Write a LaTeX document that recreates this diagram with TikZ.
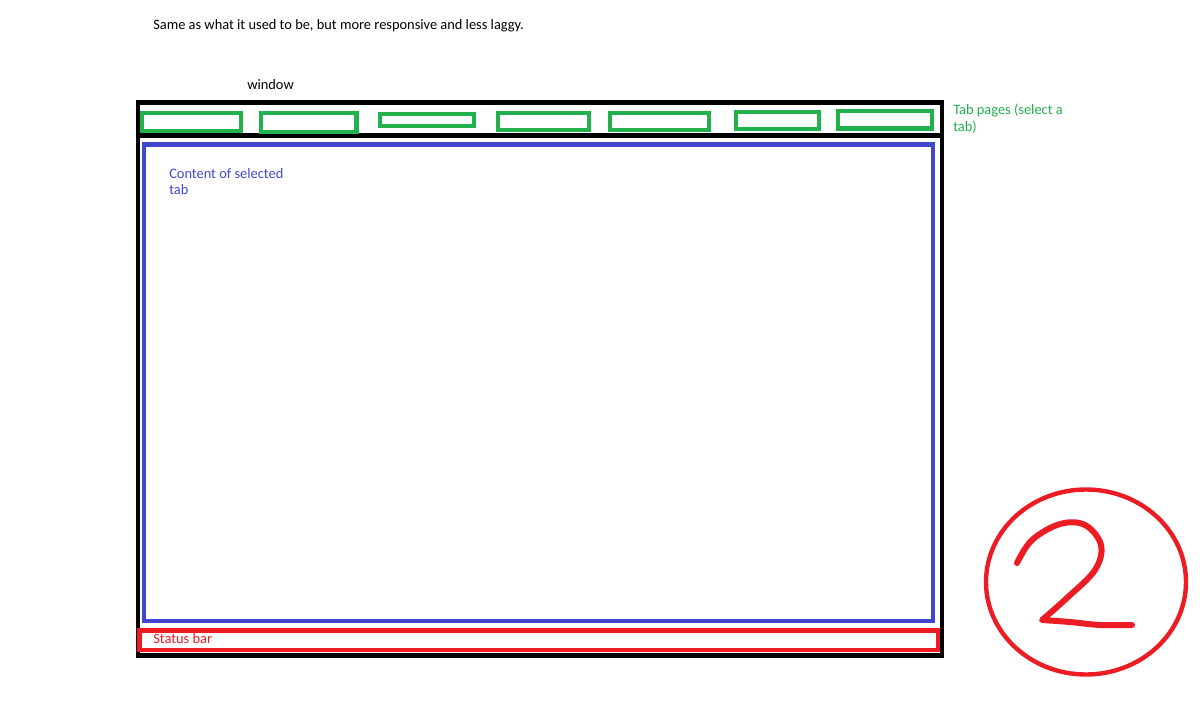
\documentclass[tikz,border=0pt]{standalone}
\usepackage{fontspec}
\setmainfont{Carlito}
\usepackage{xcolor}
\usetikzlibrary{positioning}

\definecolor{paintgreen}{HTML}{22B14C}
\definecolor{paintblue}{HTML}{3F48CC}
\definecolor{paintred}{HTML}{ED1C24}

\begin{document}
\begin{tikzpicture}[
  x=0.75pt, y=-0.75pt,
  note/.style={anchor=west, inner sep=0pt, align=left, font=\fontsize{10.8}{12.5}\selectfont},
  frame/.style={draw=black, line width=3.5pt},
  tabbox/.style={draw=paintgreen, line width=3.3pt},
  contentbox/.style={draw=paintblue, line width=3.3pt},
  statusbox/.style={draw=paintred, line width=3.3pt}
]
\useasboundingbox (0,0) rectangle (1200,722);

% Caption
\node[note] (caption) at (153,26) {Same as what it used to be, but more responsive and less laggy.};
\node[note] (winlabel) at (247,85) {window};

% Window frame
\draw[frame] (138,102.5) rectangle (942,655.5);
\draw[frame] (138,135.5) -- (942,135.5);

% Tab pages
\draw[tabbox] (142,113) rectangle (241,131);
\draw[tabbox] (261,113) rectangle (356.5,132);
\draw[tabbox] (380,114) rectangle (474,126);
\draw[tabbox] (498,113) rectangle (589,130);
\draw[tabbox] (610,113) rectangle (709,130);
\draw[tabbox] (736,112) rectangle (819,129);
\draw[tabbox] (838,111) rectangle (932,128.5);
\node[note, text=paintgreen] (tablabel) at (953,119) {Tab pages (select a\\tab)};

% Content
\draw[contentbox] (144,144.5) rectangle (933,621);
\node[note, text=paintblue] (contentlabel) at (169,181.5) {Content of selected\\tab};

% Status bar
\draw[statusbox] (139.5,630.5) rectangle (938,650);
\node[note, text=paintred] (statuslabel) at (153,638.5) {Status bar};

% Number mark
\draw[paintred, line width=3.3pt] (1086,582) ellipse [x radius=100, y radius=92.5];
\draw[paintred, line width=4.5pt, line cap=round, line join=round]
  plot[smooth, tension=0.6] coordinates {(1017,563) (1032,540) (1060,524) (1085,525) (1101,545) (1095,570) (1068,597) (1042,620)}
  -- plot[smooth, tension=0.6] coordinates {(1042,620) (1070,622) (1100,625) (1132,625)};

\end{tikzpicture}
\end{document}
